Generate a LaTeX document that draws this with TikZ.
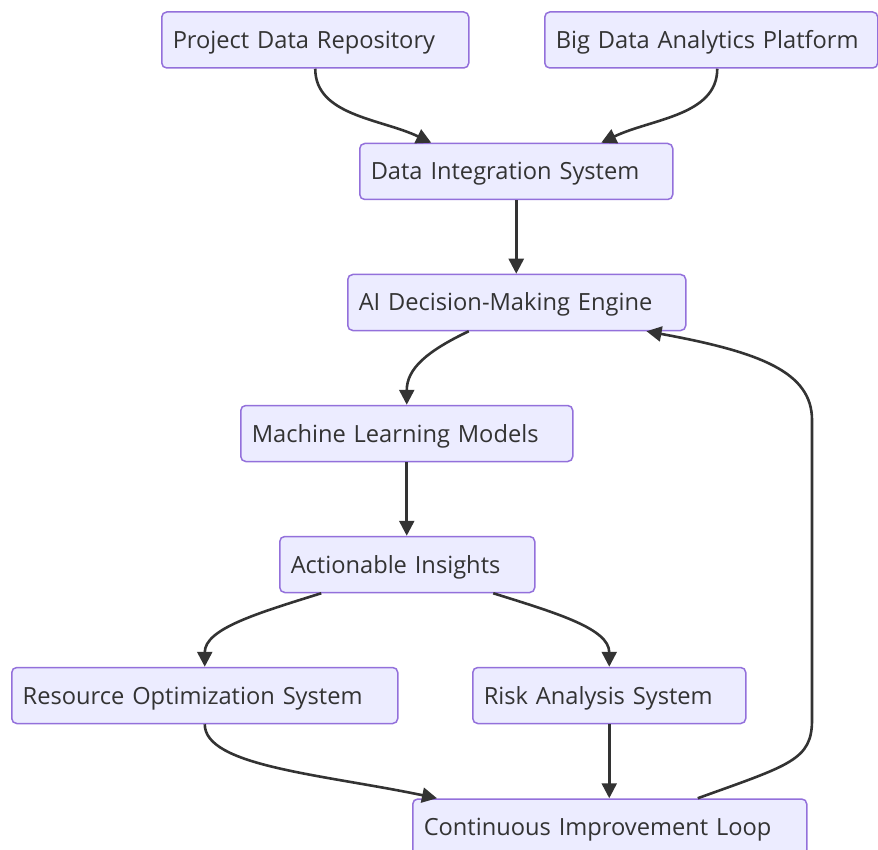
\documentclass[tikz,border=0pt]{standalone}
\usepackage{fontspec}
\setmainfont{Open Sans}
\usetikzlibrary{arrows.meta,calc}
\definecolor{boxfill}{HTML}{ECECFF}
\definecolor{boxline}{HTML}{9370DB}
\definecolor{ink}{HTML}{333333}
\tikzset{
  box/.style={draw=boxline, fill=boxfill, line width=1.5pt, rounded corners=5pt,
    minimum height=56pt, inner xsep=11pt, inner ysep=0pt, align=left,
    text height=20pt, text depth=3pt,
    text=ink, font=\fontsize{23.65}{28}\selectfont, anchor=west},
  conn/.style={draw=ink, line width=2.6pt, -{Triangle[length=15pt,width=15pt]}},
}
\begin{document}
\begin{tikzpicture}[x=1pt,y=-1pt]
\useasboundingbox (0,0) rectangle (878,850);
\node[box, text width=285pt] (pdr) at (161,40) {Project Data Repository};
\node[box, text width=311pt] (bdap) at (544,40) {Big Data Analytics Platform};
\node[box, text width=291pt] (dis) at (359,171.5) {Data Integration System};
\node[box, text width=316pt] (aide) at (347,302.5) {AI Decision-Making Engine};
\node[box, text width=310pt] (mlm) at (240,433.5) {Machine Learning Models};
\node[box, text width=233pt] (ains) at (279,564.5) {Actionable Insights};
\node[box, text width=364pt] (ros) at (11,695.5) {Resource Optimization System};
\node[box, text width=251pt] (ras) at (472,695.5) {Risk Analysis System};
\node[box, text width=372pt] (cil) at (412,827) {Continuous Improvement Loop};

\draw[conn] (pdr.south) .. controls ($(pdr.south)+(0,47)$) and ($(dis.north)+(-135,-24)$) .. ($(dis.north)+(-85,0)$);
\draw[conn] ($(bdap.south)+(6,0)$) .. controls ($(bdap.south)+(6,47)$) and ($(dis.north)+(135,-24)$) .. ($(dis.north)+(85,0)$);
\draw[conn] (dis.south) -- (dis.south |- aide.north);
\draw[conn] ($(aide.south)+(-48,0)$) .. controls ($(aide.south)+(-90,20)$) and ($(mlm.north)+(0,-36)$) .. (mlm.north);
\draw[conn] (mlm.south) -- (mlm.south |- ains.north);
\draw[conn] ($(ains.south)+(-86,0)$) .. controls ($(ains.south)+(-150,20)$) and ($(ros.north)+(0,-38)$) .. (ros.north);
\draw[conn] ($(ains.south)+(86,0)$) .. controls ($(ains.south)+(150,20)$) and ($(ras.north)+(0,-38)$) .. (ras.north);
\draw[conn] (ros.south) .. controls ($(ros.south)+(0,42)$) and ($(cil.north west)+(-90,-24)$) .. ($(cil.north west)+(25,0)$);
\draw[conn] (ras.south) -- (ras.south |- cil.north);
\draw[conn] ($(cil.north)+(88,0)$) .. controls (790,765) and (812,760) .. (812,720) -- (812,420) .. controls (812,372) and (760,352) .. ($(aide.south east)+(-40,0)$);
\end{tikzpicture}
\end{document}
